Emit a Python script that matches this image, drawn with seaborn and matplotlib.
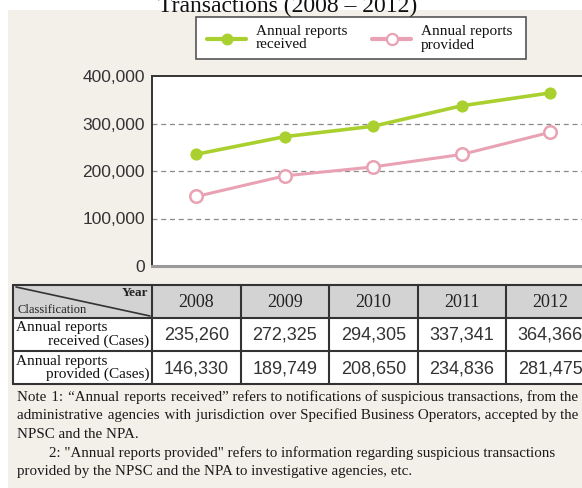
import matplotlib
matplotlib.use("Agg")
import matplotlib.pyplot as plt
import seaborn as sns
import pandas as pd
from matplotlib.patches import Rectangle
from matplotlib.lines import Line2D
from matplotlib.ticker import FuncFormatter

# ---------------- data ----------------
years = [2008, 2009, 2010, 2011, 2012]
received = [235260, 272325, 294305, 337341, 364366]
provided = [146330, 189749, 208650, 234836, 281475]
series_names = ["Annual reports received", "Annual reports provided"]
legend_labels = [("Annual reports", "received"), ("Annual reports", "provided")]
row_labels = [("Annual reports", "received (Cases)"), ("Annual reports", "provided (Cases)")]
y_ticks = [0, 100000, 200000, 300000, 400000]
title = "Transactions (2008 \u2013 2012)"
header_year = "Year"
header_class = "Classification"
notes = [
    ("Note 1: \u201cAnnual reports received\u201d refers to notifications of suspicious transactions, from the", True, 17),
    ("administrative agencies with jurisdiction over Specified Business Operators, accepted by the", True, 17),
    ("NPSC and the NPA.", False, 17),
    ("2: \"Annual reports provided\" refers to information regarding suspicious transactions", False, 49),
    ("provided by the NPSC and the NPA to investigative agencies, etc.", False, 17),
]

# ---------------- style ----------------
sns.set_theme(style="white")
plt.rcParams["font.family"] = ["Liberation Sans", "DejaVu Sans"]
SERIF = ["Liberation Serif", "DejaVu Serif"]
SANS = ["Liberation Sans", "DejaVu Sans"]
BG = "#f3efe9"
GREEN = "#a9d02e"
PINK = "#e9a2b3"
HEAD = "#d3d3d3"
LINE = "#333333"

W, H = 582, 488
fig = plt.figure(figsize=(W / 100, H / 100), dpi=100)
fig.patch.set_facecolor("white")

ov = fig.add_axes([0, 0, 1, 1])
ov.set_xlim(0, W)
ov.set_ylim(H, 0)
ov.axis("off")
ov.add_patch(Rectangle((8, 10), W - 8, H - 10, facecolor=BG, edgecolor="none"))
ov.text(288, 12, title, ha="center", va="baseline", fontsize=17, family=SERIF, color="#111111")

# ---------------- main plot ----------------
PX_L, PX_R, PX_T, PX_B = 152, 582, 76, 266
PX_PER_YEAR = 88.5
ax = fig.add_axes([PX_L / W, 1 - PX_B / H, (PX_R - PX_L) / W, (PX_B - PX_T) / H])
ax.set_facecolor("white")

df = pd.DataFrame({
    "Year": years * 2,
    "Cases": received + provided,
    "Series": [series_names[0]] * len(years) + [series_names[1]] * len(years),
})
sns.lineplot(data=df[df.Series == series_names[0]], x="Year", y="Cases", ax=ax,
             color=GREEN, lw=2.6, marker="o", markersize=8, mec=GREEN, mfc=GREEN, legend=False, zorder=3)
sns.lineplot(data=df[df.Series == series_names[1]], x="Year", y="Cases", ax=ax,
             color=PINK, lw=2.2, marker="o", markersize=9, mec=PINK, mfc="white", mew=1.8,
             legend=False, zorder=3)

x0 = years[0] - 0.5
ax.set_xlim(x0, x0 + (PX_R - PX_L) / PX_PER_YEAR)
ax.set_ylim(0, 400000)
ax.set_yticks(y_ticks)
ax.yaxis.set_major_formatter(FuncFormatter(lambda v, p: f"{int(v):,}"))
ax.set_xticks([])
ax.set_xlabel("")
ax.set_ylabel("")
ax.tick_params(axis="y", length=0, pad=5, labelsize=12.5, labelcolor="#333333")
for lab in ax.get_yticklabels():
    lab.set_family(SANS)
for v in y_ticks[1:-1]:
    ax.axhline(v, color="#8a8a8a", lw=0.9, ls=(0, (4, 3)), zorder=1)
ax.grid(False)
ax.spines["left"].set_color(LINE)
ax.spines["left"].set_linewidth(1.4)
ax.spines["top"].set_color(LINE)
ax.spines["top"].set_linewidth(1.4)
ax.spines["bottom"].set_color("#9a9a9a")
ax.spines["bottom"].set_linewidth(2.2)
ax.spines["right"].set_visible(False)

# ---------------- legend (drawn in overlay) ----------------
ov.add_patch(Rectangle((196, 17), 330, 42, facecolor="white", edgecolor="#555555", lw=1.2))
leg_items = [(GREEN, GREEN, 207, 246, 256), (PINK, "white", 372, 411, 421)]
for (col, face, lx0, lx1, tx), (l1, l2) in zip(leg_items, legend_labels):
    ov.add_line(Line2D([lx0, lx1], [39, 39], color=col, lw=3))
    ov.add_line(Line2D([(lx0 + lx1) / 2], [39], color=col, marker="o", markersize=7 if face == col else 8,
                       mfc=face, mec=col, mew=1.6, lw=0))
    ov.text(tx, 31.5, l1, ha="left", va="center", fontsize=11, family=SERIF, color="#111111")
    ov.text(tx, 45, l2, ha="left", va="center", fontsize=11, family=SERIF, color="#111111")

# ---------------- table ----------------
T_L = 13
rows_y = [285, 318, 351, 384]
col_edges = [PX_L + (i) * PX_PER_YEAR for i in range(len(years) + 1)]
ov.add_patch(Rectangle((T_L, rows_y[0]), W - T_L, rows_y[1] - rows_y[0], facecolor=HEAD, edgecolor="none"))
ov.add_patch(Rectangle((T_L, rows_y[1]), W - T_L, rows_y[3] - rows_y[1], facecolor="white", edgecolor="none"))
for yy in rows_y:
    ov.add_line(Line2D([T_L, W], [yy, yy], color=LINE, lw=1.5))
for xx in [T_L] + col_edges:
    if xx < W:
        ov.add_line(Line2D([xx, xx], [rows_y[0], rows_y[-1]], color=LINE, lw=1.5))
ov.add_line(Line2D([T_L + 3, PX_L - 2], [rows_y[0] + 2, rows_y[1] - 2], color=LINE, lw=1.2))
ov.text(PX_L - 4, 293, header_year, ha="right", va="center", fontsize=9.5, family=SERIF,
        weight="bold", color="#222222")
ov.text(T_L + 5, 310, header_class, ha="left", va="center", fontsize=9, family=SERIF, color="#222222")

for i, yr in enumerate(years):
    cx = PX_L + (i + 0.5) * PX_PER_YEAR
    ov.text(cx, (rows_y[0] + rows_y[1]) / 2 + 1, str(yr), ha="center", va="center",
            fontsize=13, family=SERIF, color="#222222")
    for r, vals in enumerate([received, provided]):
        ov.text(cx, (rows_y[r + 1] + rows_y[r + 2]) / 2 + 1, f"{vals[i]:,}", ha="center", va="center",
                fontsize=13, family=SANS, color="#333333")

for r, (l1, l2) in enumerate(row_labels):
    top = rows_y[r + 1]
    ov.text(T_L + 3, top + 10, l1, ha="left", va="center", fontsize=11, family=SERIF, color="#111111")
    ov.text(PX_L - 3, top + 23, l2, ha="right", va="center", fontsize=11, family=SERIF, color="#111111")

# ---------------- notes ----------------
renderer = fig.canvas.get_renderer()
NOTE_FS = 10.8
note_y0, note_dy = 401, 18.5
kw = dict(ha="left", va="baseline", fontsize=NOTE_FS, family=SERIF, color="#1a1a1a")


def text_width(s):
    t = ov.text(0, 0, s, **kw)
    w = t.get_window_extent(renderer).width
    t.remove()
    return w


thin_w = text_width("a\u200aa") - text_width("aa")
for k, (line, justify, xs) in enumerate(notes):
    y = note_y0 + k * note_dy
    s = line
    if justify and thin_w > 0:
        extra = 578 - xs - text_width(line)
        n_add = max(0, int(round(extra / thin_w)))
        words = line.split(" ")
        gaps = len(words) - 1
        parts = [words[0]]
        for g in range(gaps):
            cnt = n_add // gaps + (1 if g < n_add % gaps else 0)
            parts.append(" " + "\u200a" * cnt + words[g + 1])
        s = "".join(parts)
    ov.text(xs, y, s, **kw)

fig.savefig("out.png", dpi=100, facecolor=fig.get_facecolor())
